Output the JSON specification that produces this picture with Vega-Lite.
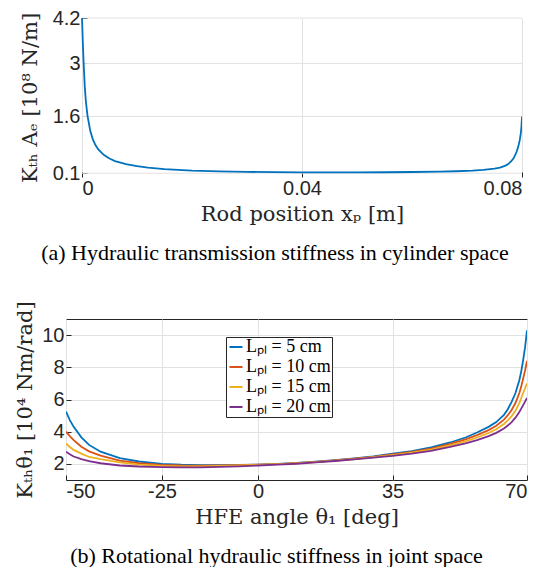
{
  "$schema": "https://vega.github.io/schema/vega-lite/v6.json",
  "background": "white",
  "padding": {"left": 14, "top": 8, "right": 0, "bottom": 0},
  "config": {
    "view": {"stroke": "#262626", "strokeWidth": 1},
    "axis": {
      "domain": false,
      "grid": true,
      "gridColor": "#e2e2e2",
      "gridWidth": 1,
      "tickColor": "#262626",
      "tickSize": -5,
      "labelFont": "Liberation Sans",
      "labelFontSize": 20,
      "labelColor": "#262626",
      "titleFont": "DejaVu Serif",
      "titleFontSize": 21,
      "titleFontWeight": "normal",
      "titleColor": "#262626"
    },
    "axisX": {"labelPadding": 6, "titlePadding": 5},
    "axisY": {"labelPadding": 7},
    "title": {"font": "Liberation Serif", "fontSize": 22, "fontWeight": "normal", "color": "#000000", "orient": "bottom", "anchor": "middle", "offset": 19},
    "legend": {"labelFont": "Liberation Serif"}
  },
  "spacing": 33,
  "resolve": {"legend": {"color": "independent"}},
  "vconcat": [
    {
      "width": 456,
      "height": 159,
      "view": {"stroke": null},
      "title": {"text": "(a) Hydraulic transmission stiffness in cylinder space", "dx": -19},
      "layer": [
        {
          "data": {"values": [{"K": 0.1}, {"K": 1.6}, {"K": 3}, {"K": 4.2}]},
          "mark": {"type": "rule", "color": "#e2e2e2", "strokeWidth": 1},
          "encoding": {
            "y": {"field": "K", "type": "quantitative"},
            "x": {"datum": 0},
            "x2": {"datum": 0.08}
          }
        },
        {
          "data": {"values": [
            {"x": 0, "K": 4.2}, {"x": 0.00015, "K": 3.55}, {"x": 0.0003, "K": 3.0}, {"x": 0.0005, "K": 2.4},
            {"x": 0.0007, "K": 2.0}, {"x": 0.001, "K": 1.62}, {"x": 0.0015, "K": 1.22}, {"x": 0.002, "K": 0.98},
            {"x": 0.0025, "K": 0.83}, {"x": 0.003, "K": 0.72}, {"x": 0.004, "K": 0.58}, {"x": 0.005, "K": 0.49},
            {"x": 0.006, "K": 0.42}, {"x": 0.008, "K": 0.34}, {"x": 0.01, "K": 0.29}, {"x": 0.012, "K": 0.25},
            {"x": 0.015, "K": 0.21}, {"x": 0.02, "K": 0.17}, {"x": 0.025, "K": 0.15}, {"x": 0.03, "K": 0.135},
            {"x": 0.035, "K": 0.127}, {"x": 0.04, "K": 0.122}, {"x": 0.045, "K": 0.12}, {"x": 0.05, "K": 0.121},
            {"x": 0.055, "K": 0.125}, {"x": 0.06, "K": 0.132}, {"x": 0.065, "K": 0.142}, {"x": 0.068, "K": 0.152},
            {"x": 0.071, "K": 0.168}, {"x": 0.073, "K": 0.188}, {"x": 0.075, "K": 0.22}, {"x": 0.076, "K": 0.25},
            {"x": 0.077, "K": 0.3}, {"x": 0.0775, "K": 0.34}, {"x": 0.078, "K": 0.41}, {"x": 0.0785, "K": 0.5},
            {"x": 0.079, "K": 0.66}, {"x": 0.0793, "K": 0.79}, {"x": 0.0796, "K": 0.98}, {"x": 0.0798, "K": 1.17},
            {"x": 0.0799, "K": 1.33}, {"x": 0.08, "K": 1.6}
          ]},
          "mark": {"type": "line", "color": "#0072BD", "strokeWidth": 1.8, "clip": true},
          "encoding": {
            "x": {"field": "x", "type": "quantitative", "scale": {"domain": [0, 0.08], "range": [16, 456], "nice": false, "zero": false},
                  "axis": {"values": [0, 0.04, 0.08], "labelExpr": "'' + datum.value", "title": "Rod position xₚ [m]"}},
            "y": {"field": "K", "type": "quantitative", "scale": {"domain": [0, 4.2], "nice": false, "zero": false},
                  "axis": {"values": [0.1, 1.6, 3, 4.2], "labelExpr": "'' + datum.value", "title": "Kₜₕ Aₑ  [10⁸ N/m]", "titlePadding": 12, "offset": -16, "grid": false}}
          }
        },
        {
          "mark": {"type": "rect", "filled": false, "color": "#262626", "strokeWidth": 1},
          "encoding": {
            "x": {"datum": 0},
            "x2": {"datum": 0.08},
            "y": {"datum": 0},
            "y2": {"datum": 4.2}
          }
        }
      ]
    },
    {
      "width": 461,
      "height": 161,
      "title": {"text": "(b) Rotational hydraulic stiffness in joint space", "dx": -20},
      "data": {"values": [
        {"t": -50, "K": 5.25, "L": "Lₚₗ = 5 cm"}, {"t": -49, "K": 4.72, "L": "Lₚₗ = 5 cm"}, {"t": -48, "K": 4.3, "L": "Lₚₗ = 5 cm"}, {"t": -46, "K": 3.65, "L": "Lₚₗ = 5 cm"},
        {"t": -44, "K": 3.18, "L": "Lₚₗ = 5 cm"}, {"t": -41, "K": 2.76, "L": "Lₚₗ = 5 cm"}, {"t": -36, "K": 2.36, "L": "Lₚₗ = 5 cm"}, {"t": -31, "K": 2.15, "L": "Lₚₗ = 5 cm"},
        {"t": -25, "K": 2.0, "L": "Lₚₗ = 5 cm"}, {"t": -20, "K": 1.95, "L": "Lₚₗ = 5 cm"}, {"t": -15, "K": 1.93, "L": "Lₚₗ = 5 cm"}, {"t": -10, "K": 1.93, "L": "Lₚₗ = 5 cm"},
        {"t": -5, "K": 1.94, "L": "Lₚₗ = 5 cm"}, {"t": 0, "K": 1.96, "L": "Lₚₗ = 5 cm"}, {"t": 5, "K": 2.0, "L": "Lₚₗ = 5 cm"}, {"t": 10, "K": 2.06, "L": "Lₚₗ = 5 cm"},
        {"t": 15, "K": 2.14, "L": "Lₚₗ = 5 cm"}, {"t": 20, "K": 2.23, "L": "Lₚₗ = 5 cm"}, {"t": 25, "K": 2.34, "L": "Lₚₗ = 5 cm"}, {"t": 30, "K": 2.47, "L": "Lₚₗ = 5 cm"},
        {"t": 35, "K": 2.63, "L": "Lₚₗ = 5 cm"}, {"t": 40, "K": 2.8, "L": "Lₚₗ = 5 cm"}, {"t": 45, "K": 3.02, "L": "Lₚₗ = 5 cm"}, {"t": 50, "K": 3.33, "L": "Lₚₗ = 5 cm"},
        {"t": 54, "K": 3.64, "L": "Lₚₗ = 5 cm"}, {"t": 57, "K": 3.95, "L": "Lₚₗ = 5 cm"}, {"t": 60, "K": 4.3, "L": "Lₚₗ = 5 cm"}, {"t": 62, "K": 4.6, "L": "Lₚₗ = 5 cm"},
        {"t": 64, "K": 5.05, "L": "Lₚₗ = 5 cm"}, {"t": 65, "K": 5.4, "L": "Lₚₗ = 5 cm"}, {"t": 66, "K": 5.85, "L": "Lₚₗ = 5 cm"}, {"t": 67, "K": 6.4, "L": "Lₚₗ = 5 cm"},
        {"t": 68, "K": 7.2, "L": "Lₚₗ = 5 cm"}, {"t": 68.5, "K": 7.75, "L": "Lₚₗ = 5 cm"}, {"t": 69, "K": 8.45, "L": "Lₚₗ = 5 cm"}, {"t": 69.5, "K": 9.25, "L": "Lₚₗ = 5 cm"},
        {"t": 70, "K": 10.3, "L": "Lₚₗ = 5 cm"},

        {"t": -50, "K": 4.0, "L": "Lₚₗ = 10 cm"}, {"t": -49, "K": 3.72, "L": "Lₚₗ = 10 cm"}, {"t": -48, "K": 3.48, "L": "Lₚₗ = 10 cm"}, {"t": -46, "K": 3.07, "L": "Lₚₗ = 10 cm"},
        {"t": -44, "K": 2.78, "L": "Lₚₗ = 10 cm"}, {"t": -41, "K": 2.52, "L": "Lₚₗ = 10 cm"}, {"t": -36, "K": 2.21, "L": "Lₚₗ = 10 cm"}, {"t": -31, "K": 2.04, "L": "Lₚₗ = 10 cm"},
        {"t": -25, "K": 1.94, "L": "Lₚₗ = 10 cm"}, {"t": -20, "K": 1.9, "L": "Lₚₗ = 10 cm"}, {"t": -15, "K": 1.89, "L": "Lₚₗ = 10 cm"}, {"t": -10, "K": 1.9, "L": "Lₚₗ = 10 cm"},
        {"t": -5, "K": 1.92, "L": "Lₚₗ = 10 cm"}, {"t": 0, "K": 1.95, "L": "Lₚₗ = 10 cm"}, {"t": 5, "K": 1.99, "L": "Lₚₗ = 10 cm"}, {"t": 10, "K": 2.05, "L": "Lₚₗ = 10 cm"},
        {"t": 15, "K": 2.12, "L": "Lₚₗ = 10 cm"}, {"t": 20, "K": 2.21, "L": "Lₚₗ = 10 cm"}, {"t": 25, "K": 2.32, "L": "Lₚₗ = 10 cm"}, {"t": 30, "K": 2.44, "L": "Lₚₗ = 10 cm"},
        {"t": 35, "K": 2.59, "L": "Lₚₗ = 10 cm"}, {"t": 40, "K": 2.75, "L": "Lₚₗ = 10 cm"}, {"t": 45, "K": 2.95, "L": "Lₚₗ = 10 cm"}, {"t": 50, "K": 3.24, "L": "Lₚₗ = 10 cm"},
        {"t": 54, "K": 3.52, "L": "Lₚₗ = 10 cm"}, {"t": 57, "K": 3.79, "L": "Lₚₗ = 10 cm"}, {"t": 60, "K": 4.1, "L": "Lₚₗ = 10 cm"}, {"t": 62, "K": 4.37, "L": "Lₚₗ = 10 cm"},
        {"t": 64, "K": 4.75, "L": "Lₚₗ = 10 cm"}, {"t": 65, "K": 5.02, "L": "Lₚₗ = 10 cm"}, {"t": 66, "K": 5.35, "L": "Lₚₗ = 10 cm"}, {"t": 67, "K": 5.78, "L": "Lₚₗ = 10 cm"},
        {"t": 68, "K": 6.4, "L": "Lₚₗ = 10 cm"}, {"t": 68.5, "K": 6.8, "L": "Lₚₗ = 10 cm"}, {"t": 69, "K": 7.3, "L": "Lₚₗ = 10 cm"}, {"t": 69.5, "K": 7.8, "L": "Lₚₗ = 10 cm"},
        {"t": 70, "K": 8.4, "L": "Lₚₗ = 10 cm"},

        {"t": -50, "K": 3.27, "L": "Lₚₗ = 15 cm"}, {"t": -49, "K": 3.05, "L": "Lₚₗ = 15 cm"}, {"t": -48, "K": 2.87, "L": "Lₚₗ = 15 cm"}, {"t": -46, "K": 2.64, "L": "Lₚₗ = 15 cm"},
        {"t": -44, "K": 2.43, "L": "Lₚₗ = 15 cm"}, {"t": -41, "K": 2.29, "L": "Lₚₗ = 15 cm"}, {"t": -36, "K": 2.09, "L": "Lₚₗ = 15 cm"}, {"t": -31, "K": 1.96, "L": "Lₚₗ = 15 cm"},
        {"t": -25, "K": 1.88, "L": "Lₚₗ = 15 cm"}, {"t": -20, "K": 1.85, "L": "Lₚₗ = 15 cm"}, {"t": -15, "K": 1.85, "L": "Lₚₗ = 15 cm"}, {"t": -10, "K": 1.87, "L": "Lₚₗ = 15 cm"},
        {"t": -5, "K": 1.9, "L": "Lₚₗ = 15 cm"}, {"t": 0, "K": 1.94, "L": "Lₚₗ = 15 cm"}, {"t": 5, "K": 1.98, "L": "Lₚₗ = 15 cm"}, {"t": 10, "K": 2.04, "L": "Lₚₗ = 15 cm"},
        {"t": 15, "K": 2.11, "L": "Lₚₗ = 15 cm"}, {"t": 20, "K": 2.2, "L": "Lₚₗ = 15 cm"}, {"t": 25, "K": 2.3, "L": "Lₚₗ = 15 cm"}, {"t": 30, "K": 2.42, "L": "Lₚₗ = 15 cm"},
        {"t": 35, "K": 2.55, "L": "Lₚₗ = 15 cm"}, {"t": 40, "K": 2.7, "L": "Lₚₗ = 15 cm"}, {"t": 45, "K": 2.89, "L": "Lₚₗ = 15 cm"}, {"t": 50, "K": 3.15, "L": "Lₚₗ = 15 cm"},
        {"t": 54, "K": 3.4, "L": "Lₚₗ = 15 cm"}, {"t": 57, "K": 3.64, "L": "Lₚₗ = 15 cm"}, {"t": 60, "K": 3.92, "L": "Lₚₗ = 15 cm"}, {"t": 62, "K": 4.15, "L": "Lₚₗ = 15 cm"},
        {"t": 64, "K": 4.48, "L": "Lₚₗ = 15 cm"}, {"t": 65, "K": 4.7, "L": "Lₚₗ = 15 cm"}, {"t": 66, "K": 4.97, "L": "Lₚₗ = 15 cm"}, {"t": 67, "K": 5.3, "L": "Lₚₗ = 15 cm"},
        {"t": 68, "K": 5.78, "L": "Lₚₗ = 15 cm"}, {"t": 68.5, "K": 6.08, "L": "Lₚₗ = 15 cm"}, {"t": 69, "K": 6.4, "L": "Lₚₗ = 15 cm"}, {"t": 69.5, "K": 6.7, "L": "Lₚₗ = 15 cm"},
        {"t": 70, "K": 7.0, "L": "Lₚₗ = 15 cm"},

        {"t": -50, "K": 2.76, "L": "Lₚₗ = 20 cm"}, {"t": -49, "K": 2.6, "L": "Lₚₗ = 20 cm"}, {"t": -48, "K": 2.46, "L": "Lₚₗ = 20 cm"}, {"t": -46, "K": 2.3, "L": "Lₚₗ = 20 cm"},
        {"t": -44, "K": 2.17, "L": "Lₚₗ = 20 cm"}, {"t": -41, "K": 2.04, "L": "Lₚₗ = 20 cm"}, {"t": -36, "K": 1.9, "L": "Lₚₗ = 20 cm"}, {"t": -31, "K": 1.84, "L": "Lₚₗ = 20 cm"},
        {"t": -25, "K": 1.8, "L": "Lₚₗ = 20 cm"}, {"t": -20, "K": 1.79, "L": "Lₚₗ = 20 cm"}, {"t": -15, "K": 1.79, "L": "Lₚₗ = 20 cm"}, {"t": -10, "K": 1.81, "L": "Lₚₗ = 20 cm"},
        {"t": -5, "K": 1.85, "L": "Lₚₗ = 20 cm"}, {"t": 0, "K": 1.9, "L": "Lₚₗ = 20 cm"}, {"t": 5, "K": 1.95, "L": "Lₚₗ = 20 cm"}, {"t": 10, "K": 2.01, "L": "Lₚₗ = 20 cm"},
        {"t": 15, "K": 2.09, "L": "Lₚₗ = 20 cm"}, {"t": 20, "K": 2.18, "L": "Lₚₗ = 20 cm"}, {"t": 25, "K": 2.28, "L": "Lₚₗ = 20 cm"}, {"t": 30, "K": 2.39, "L": "Lₚₗ = 20 cm"},
        {"t": 35, "K": 2.5, "L": "Lₚₗ = 20 cm"}, {"t": 40, "K": 2.64, "L": "Lₚₗ = 20 cm"}, {"t": 45, "K": 2.81, "L": "Lₚₗ = 20 cm"}, {"t": 50, "K": 3.05, "L": "Lₚₗ = 20 cm"},
        {"t": 54, "K": 3.27, "L": "Lₚₗ = 20 cm"}, {"t": 57, "K": 3.48, "L": "Lₚₗ = 20 cm"}, {"t": 60, "K": 3.73, "L": "Lₚₗ = 20 cm"}, {"t": 62, "K": 3.93, "L": "Lₚₗ = 20 cm"},
        {"t": 64, "K": 4.2, "L": "Lₚₗ = 20 cm"}, {"t": 65, "K": 4.38, "L": "Lₚₗ = 20 cm"}, {"t": 66, "K": 4.6, "L": "Lₚₗ = 20 cm"}, {"t": 67, "K": 4.87, "L": "Lₚₗ = 20 cm"},
        {"t": 68, "K": 5.22, "L": "Lₚₗ = 20 cm"}, {"t": 68.5, "K": 5.43, "L": "Lₚₗ = 20 cm"}, {"t": 69, "K": 5.65, "L": "Lₚₗ = 20 cm"}, {"t": 69.5, "K": 5.87, "L": "Lₚₗ = 20 cm"},
        {"t": 70, "K": 6.1, "L": "Lₚₗ = 20 cm"}
      ]},
      "mark": {"type": "line", "strokeWidth": 1.8, "clip": true},
      "encoding": {
        "x": {"field": "t", "type": "quantitative", "scale": {"domain": [-50, 70], "nice": false, "zero": false},
              "axis": {"values": [-50, -25, 0, 35, 70], "labelExpr": "'' + datum.value", "title": "HFE angle θ₁ [deg]"}},
        "y": {"field": "K", "type": "quantitative", "scale": {"domain": [1, 11], "nice": false, "zero": false},
              "axis": {"values": [2, 4, 6, 8, 10], "labelExpr": "'' + datum.value", "title": "Kₜₕθ₁  [10⁴ Nm/rad]", "titlePadding": 6}},
        "color": {"field": "L", "type": "nominal",
                  "scale": {"domain": ["Lₚₗ = 5 cm", "Lₚₗ = 10 cm", "Lₚₗ = 15 cm", "Lₚₗ = 20 cm"], "range": ["#0072BD", "#D95319", "#EDB120", "#7E2F8E"]},
                  "legend": {"orient": "none", "legendX": 160, "legendY": 18, "title": null, "symbolType": "stroke", "symbolSize": 170, "symbolStrokeWidth": 2, "symbolOffset": 0, "labelFontSize": 18, "labelColor": "#000000", "labelOffset": 1, "rowPadding": 2, "padding": 1, "strokeColor": "#262626", "fillColor": "white"}}
      }
    }
  ]
}
